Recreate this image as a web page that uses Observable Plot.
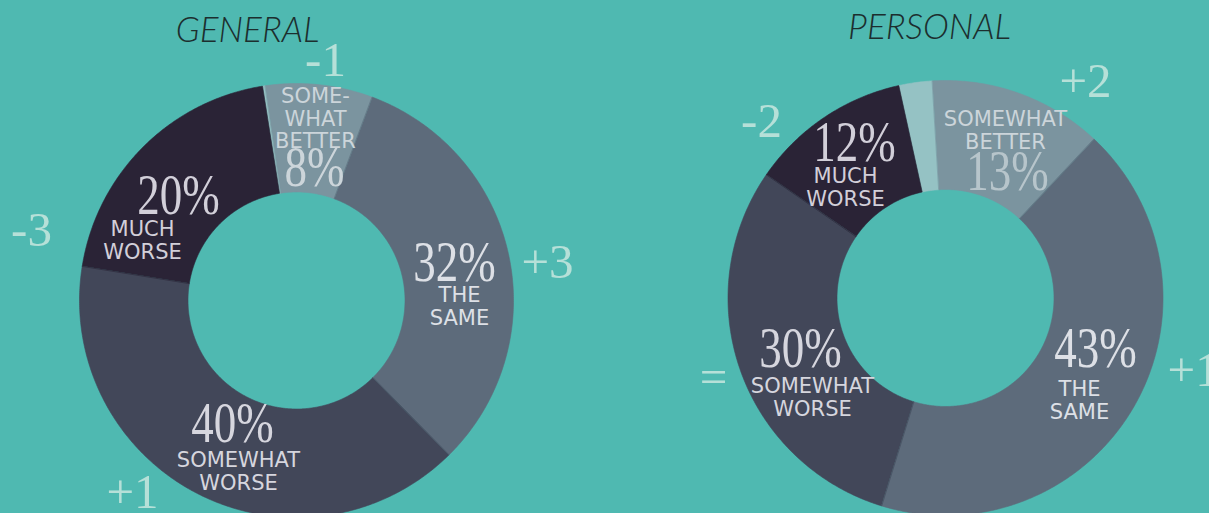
<!DOCTYPE html>
<html>
<head>
<meta charset="utf-8">
<script src="https://cdn.jsdelivr.net/npm/d3@7"></script>
<script src="https://cdn.jsdelivr.net/npm/@observablehq/plot@0.6"></script>
<style>
  html, body { margin: 0; padding: 0; background: #4fb9b1; }
  #chart svg { display: block; }
</style>
</head>
<body>
<div id="chart"></div>
<script>
// ---------- data ----------
const categories = ["Much better", "Somewhat better", "The same", "Somewhat worse", "Much worse"];
const generalValues  = [0.2, 8, 32, 40, 20];
const personalValues = [2.5, 13, 43, 30, 12];
const generalNames  = [null, "SOME-\nWHAT\nBETTER", "THE\nSAME", "SOMEWHAT\nWORSE", "MUCH\nWORSE"];
const personalNames = [null, "SOMEWHAT\nBETTER", "THE\nSAME", "SOMEWHAT\nWORSE", "MUCH\nWORSE"];
const generalChanges  = [null, "-1", "+3", "+1", "-3"];
const personalChanges = [null, "+2", "+1", "=", "-2"];
const chartTitles = ["GENERAL", "PERSONAL"];

// ---------- style / layout ----------
const sliceColors = ["#95c2c4", "#7b949f", "#5d6b7b", "#424759", "#2a2336"];
const W = 1209, H = 513;
const layout = [
  { title: chartTitles[0], values: generalValues, names: generalNames, changes: generalChanges,
    cx: 296, cy: 300, R: 217, r: 108.5, start: -9,
    titlePos: [247, 30],
    pctPos:    [null, [314, 168], [454, 263], [232, 424], [178, 196]],
    namePos:   [null, [315, 118], [459, 305.5], [238, 470.5], [142, 240]],
    changePos: [null, [325, 60], [547, 262], [132, 492], [31, 230]],
    changeAnchor: [null, "middle", "middle", "middle", "middle"] },
  { title: chartTitles[1], values: personalValues, names: personalNames, changes: personalChanges,
    cx: 945, cy: 297.5, R: 217.5, r: 108.5, start: -12.4,
    titlePos: [929, 27],
    pctPos:    [null, [1007, 172], [1095, 349], [800, 349], [854, 143]],
    namePos:   [null, [1005, 129.5], [1079, 400], [812, 397], [845, 186.5]],
    changePos: [null, [1085, 81], [1167, 370], [713, 377], [761, 121]],
    changeAnchor: [null, "middle", "start", "middle", "middle"] }
];
const pctFill  = [null, "#ccd5da", "#dde0e6", "#d6d6de", "#d2cfd9"];
const pctFill2 = [null, "#b7c5cb", "#dde0e6", "#d6d6de", "#d2cfd9"];

// ---------- build slice polygons from values ----------
const rad = Math.PI / 180;
const polys = [];
const pctLabels = [], nameLabels = [], changeLabels = [], titles = [];
layout.forEach((c, ci) => {
  const total = d3.sum(c.values);
  let a = c.start;
  c.values.forEach((v, i) => {
    const a0 = a, a1 = a + v / total * 360;
    a = a1;
    const key = ci + "-" + i;
    const n = Math.max(2, Math.ceil((a1 - a0) / 0.5));
    const pts = [];
    for (let k = 0; k <= n; k++) {
      const t = (a0 + (a1 - a0) * k / n) * rad;
      pts.push([c.cx + c.R * Math.sin(t), c.cy - c.R * Math.cos(t)]);
    }
    for (let k = n; k >= 0; k--) {
      const t = (a0 + (a1 - a0) * k / n) * rad;
      pts.push([c.cx + c.r * Math.sin(t), c.cy - c.r * Math.cos(t)]);
    }
    pts.forEach(([x, y]) => polys.push({key, cat: categories[i], x, y}));
    if (c.pctPos[i]) pctLabels.push({x: c.pctPos[i][0], y: c.pctPos[i][1], text: Math.round(v) + "%", fill: (ci === 0 ? pctFill : pctFill2)[i]});
    if (c.namePos[i]) nameLabels.push({x: c.namePos[i][0], y: c.namePos[i][1], text: c.names[i], fill: pctFill[i]});
    if (c.changePos[i]) changeLabels.push({x: c.changePos[i][0], y: c.changePos[i][1], text: c.changes[i], anchor: c.changeAnchor[i]});
  });
  titles.push({x: c.titlePos[0], y: c.titlePos[1], text: c.title});
});

const plot = Plot.plot({
  width: W, height: H,
  margin: 0,
  x: {domain: [0, W], range: [0, W], axis: null},
  y: {domain: [0, H], range: [0, H], axis: null},
  color: {domain: categories, range: sliceColors},
  style: {background: "#4fb9b1", overflow: "hidden"},
  marks: [
    Plot.line(polys, {x: "x", y: "y", z: "key", fill: "cat", stroke: "cat", strokeWidth: 0.6, curve: "linear-closed"}),
    Plot.text(titles, {x: "x", y: "y", text: "text", fontFamily: "Lato", fontWeight: 300, fontStyle: "italic",
      fontSize: 35, fill: "#1c2e2e", textAnchor: "middle", lineAnchor: "middle"}),
    Plot.text(pctLabels, {x: "x", y: "y", text: "text", fontFamily: "Liberation Serif", fontSize: 50,
      fill: "fill", textAnchor: "middle", lineAnchor: "middle"}),
    Plot.text(nameLabels, {x: "x", y: "y", text: "text", fontFamily: "DejaVu Sans", fontSize: 21,
      lineHeight: 1.08, fill: "fill", textAnchor: "middle", lineAnchor: "middle"}),
    Plot.text(changeLabels.filter(d => d.anchor === "middle"), {x: "x", y: "y", text: "text", fontFamily: "Liberation Serif",
      fontSize: 49, fill: "#b6e0d8", textAnchor: "middle", lineAnchor: "middle"}),
    Plot.text(changeLabels.filter(d => d.anchor === "start"), {x: "x", y: "y", text: "text", fontFamily: "Liberation Serif",
      fontSize: 49, fill: "#b6e0d8", textAnchor: "start", lineAnchor: "middle"})
  ]
});

// narrow, tall didone-like look for the percentage figures
d3.select(plot).selectAll('g[font-size="50"] text').each(function () {
  const tr = this.getAttribute("transform");
  if (tr) {
    this.setAttribute("transform", tr + " scale(0.9,1.12)");
  } else {
    const x = +this.getAttribute("x") || 0, y = +this.getAttribute("y") || 0;
    this.setAttribute("transform", `translate(${x},${y}) scale(0.9,1.12) translate(${-x},${-y})`);
  }
});
document.getElementById("chart").appendChild(plot);
</script>
</body>
</html>
